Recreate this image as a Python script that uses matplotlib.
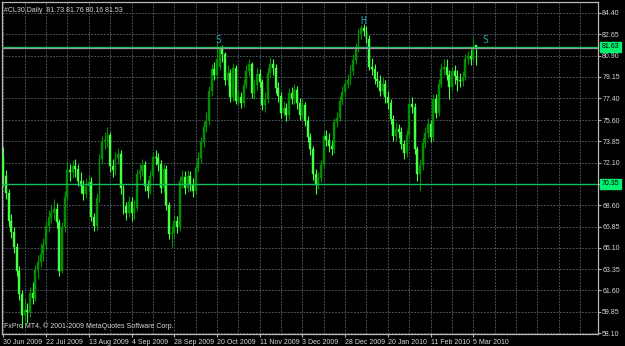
import matplotlib
matplotlib.use("Agg")
import matplotlib.pyplot as plt
import matplotlib.transforms as mtransforms
import numpy as np

# дневные свечи #CL30, 30 Jun 2009 .. начало Mar 2010 (читано с картинки)
opens = [72.6, 71.0, 69.6, 67.3, 66.4, 65.2, 63.2, 61.3, 59.6, 60.0,
         59.8, 61.4, 61.0, 63.3, 63.9, 64.6, 65.3, 66.9, 67.6, 68.0,
         68.3, 67.2, 63.2, 66.8, 69.3, 71.5, 71.3, 71.8, 71.6, 70.6,
         70.2, 69.5, 70.2, 70.5, 67.6, 66.9, 69.2, 72.4, 73.9, 73.9,
         74.4, 71.8, 71.5, 72.5, 72.8, 70.0, 68.5, 68.0, 68.9, 68.0,
         68.4, 71.2, 71.4, 71.9, 70.2, 69.8, 71.0, 72.6, 72.5, 72.0,
         70.0, 71.6, 68.6, 66.2, 66.3, 67.3, 66.8, 70.6, 70.9, 70.0,
         71.0, 70.3, 69.8, 71.7, 72.5, 73.8, 75.0, 75.5, 78.0, 79.8,
         79.3, 80.0, 81.4, 81.0, 78.9, 79.5, 77.5, 79.9, 77.2, 77.5,
         77.0, 78.5, 79.6, 80.2, 77.8, 78.5, 79.4, 78.7, 76.8, 77.3,
         79.5, 80.2, 79.9, 78.2, 77.6, 76.2, 76.6, 76.0, 77.8, 77.3,
         78.1, 77.0, 76.0, 76.8, 75.5, 74.2, 73.2, 71.2, 70.3, 70.8,
         71.9, 74.3, 74.0, 73.5, 73.2, 75.4, 75.8, 77.2, 77.9, 78.6,
         78.9, 79.6, 80.5, 81.5, 82.7, 83.2, 82.9, 82.3, 80.0, 79.8,
         79.0, 78.8, 78.0, 78.6, 77.5, 77.0, 75.7, 74.3, 74.9, 74.6,
         73.6, 72.9, 74.4, 76.9, 76.7, 73.2, 71.2, 71.9, 73.7, 74.5,
         75.3, 74.2, 77.3, 76.2, 78.6, 79.8, 80.0, 79.3, 78.3, 79.6,
         79.2, 78.9, 78.8, 79.1, 80.6, 80.9, 80.6, 81.73]
highs = [73.4, 71.5, 69.9, 67.9, 66.8, 65.5, 63.6, 61.6, 60.9, 60.6,
         61.9, 62.3, 63.7, 64.5, 65.5, 65.9, 67.3, 68.2, 68.6, 69.1,
         68.8, 67.5, 67.2, 69.8, 72.2, 72.0, 72.3, 72.4, 72.0, 71.3,
         70.7, 70.8, 71.1, 70.9, 68.0, 69.6, 72.8, 74.3, 74.6, 75.0,
         74.6, 72.4, 73.0, 73.3, 73.1, 70.3, 68.9, 69.4, 69.3, 69.0,
         71.6, 72.0, 72.4, 72.2, 70.7, 71.5, 73.0, 73.1, 72.9, 72.3,
         72.0, 71.9, 68.9, 66.9, 67.8, 67.7, 71.0, 71.5, 71.4, 71.5,
         71.4, 70.8, 72.1, 73.0, 74.2, 75.5, 76.3, 78.4, 80.2, 80.4,
         82.0, 81.7, 81.8, 81.2, 80.1, 79.8, 80.3, 80.1, 78.1, 77.9,
         79.0, 80.1, 80.6, 80.4, 79.0, 79.9, 79.8, 79.0, 77.9, 80.0,
         80.8, 80.6, 80.2, 78.7, 77.9, 77.2, 77.0, 78.2, 78.3, 78.6,
         78.4, 77.4, 77.3, 77.1, 75.9, 74.5, 73.5, 71.6, 71.3, 72.3,
         74.7, 74.8, 74.5, 74.0, 75.8, 76.3, 77.6, 78.4, 79.0, 79.4,
         80.1, 81.0, 81.9, 83.1, 83.4, 83.5, 83.3, 82.6, 80.7, 80.2,
         79.6, 79.3, 79.1, 78.9, 78.0, 77.3, 76.0, 75.4, 75.3, 75.0,
         74.0, 74.8, 77.3, 77.5, 77.0, 73.5, 72.4, 74.1, 75.0, 75.8,
         75.6, 77.7, 77.7, 79.0, 80.3, 80.6, 80.6, 79.7, 80.0, 80.1,
         79.7, 79.5, 79.6, 81.0, 81.3, 81.4, 82.4, 81.76]
lows = [70.2, 69.1, 66.9, 65.9, 64.7, 62.8, 60.8, 58.5, 59.1, 58.9,
        59.4, 60.5, 60.7, 62.6, 63.5, 64.0, 64.9, 66.4, 67.1, 67.4,
        66.7, 62.8, 63.0, 66.4, 69.0, 70.6, 70.8, 70.9, 70.2, 69.6,
        69.0, 69.2, 69.8, 67.3, 66.5, 66.6, 68.9, 72.0, 73.2, 73.4,
        71.3, 70.9, 71.1, 72.0, 69.5, 67.9, 67.4, 67.6, 67.3, 67.5,
        68.1, 70.7, 71.0, 69.8, 69.2, 69.5, 70.7, 71.9, 71.4, 69.6,
        69.7, 68.2, 65.8, 65.2, 65.9, 66.3, 66.5, 70.0, 69.5, 69.7,
        69.8, 69.3, 69.5, 71.3, 72.1, 73.4, 74.6, 75.2, 77.6, 78.9,
        79.0, 79.7, 80.4, 78.5, 78.4, 77.1, 77.2, 76.9, 76.8, 76.6,
        76.7, 78.2, 79.2, 77.4, 77.3, 78.1, 78.3, 76.4, 76.3, 77.0,
        79.1, 79.3, 77.8, 77.1, 75.8, 75.9, 75.5, 75.7, 76.9, 76.9,
        76.5, 75.6, 75.7, 75.1, 73.8, 72.7, 70.7, 69.5, 69.9, 70.5,
        71.6, 73.5, 73.0, 72.7, 72.9, 75.0, 75.5, 76.8, 77.5, 78.2,
        78.5, 79.3, 80.2, 81.2, 82.3, 82.5, 81.9, 79.7, 79.3, 78.6,
        78.3, 77.6, 77.7, 77.0, 76.5, 75.3, 73.9, 73.9, 74.1, 73.2,
        72.4, 72.6, 74.1, 76.2, 72.8, 70.6, 69.8, 71.5, 73.3, 74.1,
        73.8, 73.9, 75.8, 75.9, 78.3, 79.3, 78.9, 77.3, 78.0, 78.6,
        78.0, 78.3, 78.4, 78.9, 80.2, 80.1, 80.4, 80.16]
closes = [71.0, 69.6, 67.3, 66.4, 65.2, 63.2, 61.3, 59.6, 60.0, 59.8,
          61.4, 61.0, 63.3, 63.9, 64.6, 65.3, 66.9, 67.6, 68.0, 68.3,
          67.2, 63.2, 66.8, 69.3, 71.5, 71.3, 71.8, 71.6, 70.6, 70.2,
          69.5, 70.2, 70.5, 67.6, 66.9, 69.2, 72.4, 73.9, 73.9, 74.4,
          71.8, 71.5, 72.5, 72.8, 70.0, 68.5, 68.0, 68.9, 68.0, 68.4,
          71.2, 71.4, 71.9, 70.2, 69.8, 71.0, 72.6, 72.5, 72.0, 70.0,
          71.6, 68.6, 66.2, 66.3, 67.3, 66.8, 70.6, 70.9, 70.0, 71.0,
          70.3, 69.8, 71.7, 72.5, 73.8, 75.0, 75.5, 78.0, 79.8, 79.3,
          80.6, 81.4, 81.0, 78.9, 79.5, 77.5, 79.9, 77.2, 77.5, 77.0,
          78.5, 79.6, 80.2, 77.8, 78.5, 79.4, 78.7, 76.8, 77.3, 79.5,
          80.2, 79.9, 78.2, 77.6, 76.2, 76.6, 76.0, 77.8, 77.3, 78.1,
          77.0, 76.0, 76.8, 75.5, 74.2, 73.2, 71.2, 70.3, 70.8, 71.9,
          74.3, 74.0, 73.5, 73.2, 75.4, 75.8, 77.2, 77.9, 78.6, 78.9,
          79.6, 80.5, 81.5, 82.7, 83.2, 82.9, 82.3, 80.0, 79.8, 79.0,
          78.8, 78.0, 78.6, 77.5, 77.0, 75.7, 74.3, 74.9, 74.6, 73.6,
          72.9, 74.4, 76.9, 76.7, 73.2, 71.2, 71.9, 73.7, 74.5, 75.3,
          74.2, 77.3, 76.2, 78.6, 79.8, 80.0, 79.3, 78.3, 79.6, 79.2,
          78.9, 78.8, 79.1, 80.6, 80.9, 80.6, 81.6, 81.53]

date_labels = ['30 Jun 2009', '22 Jul 2009', '13 Aug 2009', '4 Sep 2009',
               '28 Sep 2009', '20 Oct 2009', '11 Nov 2009', '3 Dec 2009',
               '28 Dec 2009', '20 Jan 2010', '11 Feb 2010', '5 Mar 2010']
price_ticks = [84.40, 82.65, 80.90, 79.15, 77.40, 75.60, 73.85, 72.10,
               70.35, 68.60, 66.85, 65.10, 63.35, 61.60, 59.85, 58.10]
hlines = [81.63, 70.35]     # горизонтальные линии
bid = 81.53
marks = [('S', 80.4, 82.2), ('H', 134.7, 83.75), ('S', 180.4, 82.2)]
title = "#CL30,Daily  81.73 81.76 80.16 81.53"
footer = "FxPro MT4, \u00a9 2001-2009 MetaQuotes Software Corp."

bg = 'black'
fg = '#d8d8d8'
grid_c = '#56626e'
up_c = '#009000'
dn_c = '#44ff44'
line_c = '#10c060'
box_c = '#00f070'
fnt = dict(family='Liberation Sans', fontsize=5.0, color=fg)

fig = plt.figure(figsize=(6.25, 3.46), dpi=100, facecolor=bg)
ax = fig.add_axes([2/625, 1 - 334/346, 596/625, 332/346], facecolor=bg)

o = np.array(opens); h = np.array(highs); l = np.array(lows); c = np.array(closes)
x = np.arange(len(c))
up = c >= o
col = np.where(up, up_c, dn_c)

ax.vlines(x, l, h, colors=col, linewidth=0.8, zorder=3)
body = np.maximum(np.abs(c - o), 0.06)
ax.bar(x, body, bottom=np.minimum(o, c), width=0.72, color=col,
       edgecolor=col, linewidth=0.3, zorder=4)

for lv in hlines:
    ax.axhline(lv, color=line_c, linewidth=1.0, zorder=5)
ax.axhline(bid, color='#9a9a9a', linewidth=0.9, zorder=5)

for txt, bx, by in marks:
    ax.text(bx, by, txt, color='#1fa6b0', fontsize=7, family='DejaVu Sans Mono',
            ha='center', va='center', zorder=6)

ax.set_xlim(-0.5, 222.7)
ax.set_ylim(58.02, 85.30)

# сетка
ax.set_xticks(np.arange(0, 177, 16))
ax.set_xticklabels(date_labels, **fnt)
for lab in ax.get_xticklabels():
    lab.set_horizontalalignment('left')
ax.set_xticks([k for k in range(8, 223, 8) if k % 16 != 0 or k > 176], minor=True)
ax.set_yticks(price_ticks)
ax.set_yticklabels(['%.2f' % v for v in price_ticks], **fnt)
ax.yaxis.tick_right()
ax.tick_params(axis='x', which='major', length=2, color='#b0b0b0', pad=1.5)
ax.tick_params(axis='x', which='minor', length=0)
ax.tick_params(axis='y', length=2, color='#b0b0b0', pad=1)
ax.grid(True, which='both', color=grid_c, linestyle=(0, (2.2, 1.6)), linewidth=0.6)
ax.set_axisbelow(True)
for s in ax.spines.values():
    s.set_color('#b8b8b8')
    s.set_linewidth(0.9)

# подписи цен линий
tr = mtransforms.blended_transform_factory(ax.transAxes, ax.transData)
for lv in hlines:
    ax.text(1.006, lv, '%.2f' % lv, transform=tr, fontsize=5.0, family='Liberation Sans',
            color='black', va='center', ha='left', clip_on=False,
            bbox=dict(boxstyle='square,pad=0.2', fc=box_c, ec=box_c), zorder=10)

ax.text(0.004, 0.985, title, transform=ax.transAxes, va='top', ha='left', **fnt)
ax.text(0.003, 0.012, footer, transform=ax.transAxes, va='bottom', ha='left', **fnt)

fig.savefig('out.png', dpi=100, facecolor=bg)
